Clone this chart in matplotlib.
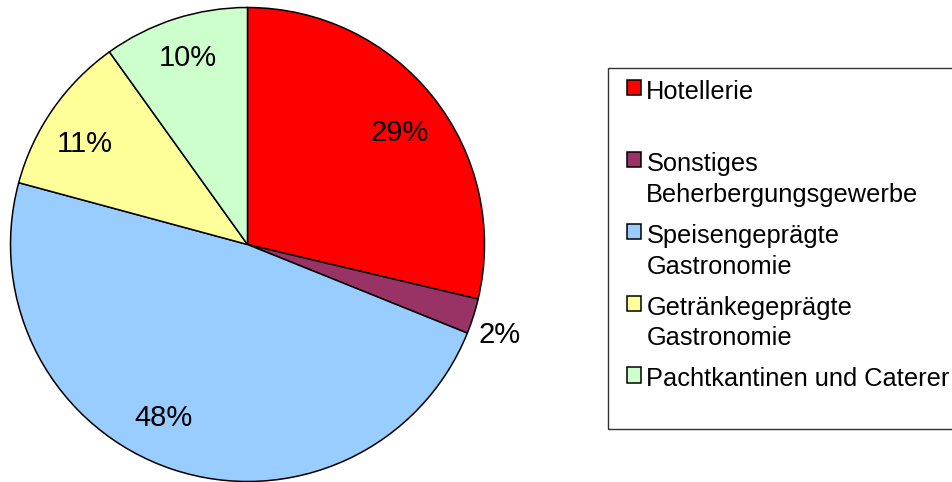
import numpy as np
import matplotlib
matplotlib.use("Agg")
import matplotlib.pyplot as plt
from matplotlib.patches import Rectangle

plt.rcParams['font.family'] = ['Liberation Sans', 'DejaVu Sans']

# Daten
kategorien = ["Hotellerie",
              "Sonstiges\nBeherbergungsgewerbe",
              "Speisengeprägte\nGastronomie",
              "Getränkegeprägte\nGastronomie",
              "Pachtkantinen und Caterer"]
anteile = [28.7, 2.4, 48.1, 10.9, 9.9]
farben = ["#FF0000", "#993366", "#99CCFF", "#FFFF99", "#CCFFCC"]

# Lage der Prozentzahlen: Abstand (Radius-Anteil) und Winkelversatz in Grad
lab_abstand = [0.796, 1.131, 0.812, 0.808, 0.828]
lab_versatz = [-2.0, -2.0, -7.2, 3.0, 0.0]

W, H = 953, 482
fig = plt.figure(figsize=(W / 100, H / 100), dpi=100)

# Achse genau um den Kreis legen (Mitte 247.5/244.5, Radius 237 px)
cx, cy, r = 247.5, 244.5, 237
ax = fig.add_axes([(cx - r) / W, (H - cy - r) / H, 2 * r / W, 2 * r / H])

wedges, texts, autotexts = ax.pie(
    anteile, colors=farben, startangle=90, counterclock=False,
    autopct='%.0f%%', pctdistance=0.8,
    wedgeprops=dict(edgecolor='black', linewidth=1.1, clip_on=False),
    textprops=dict(fontsize=21, color='black'))
ax.set_xlim(-1, 1)
ax.set_ylim(-1, 1)

for w, t, d, v in zip(wedges, autotexts, lab_abstand, lab_versatz):
    mitte = np.deg2rad((w.theta1 + w.theta2) / 2 + v)
    t.set_position((d * np.cos(mitte), d * np.sin(mitte)))

# Legendenrahmen
fig.add_artist(Rectangle((608 / W, (H - 429) / H), (965 - 608) / W, (429 - 68) / H,
                         transform=fig.transFigure, fill=False,
                         edgecolor='#333333', linewidth=1.0))

beschr = [k if "\n" in k else k + "\n" for k in kategorien]
leg = fig.legend(wedges, beschr, loc='upper left',
                 bbox_to_anchor=(627 / W, (H - 80) / H),
                 frameon=False, borderpad=0, borderaxespad=0,
                 handlelength=0.56, handleheight=0.56, handletextpad=0.2,
                 labelspacing=0.67, fontsize=18.3)
for t in leg.get_texts():
    t.set_linespacing(1.36)
for spalte in leg._legend_handle_box.get_children():
    for eintrag in spalte.get_children():
        eintrag.align = "top"

plt.savefig("out.png", dpi=100)
